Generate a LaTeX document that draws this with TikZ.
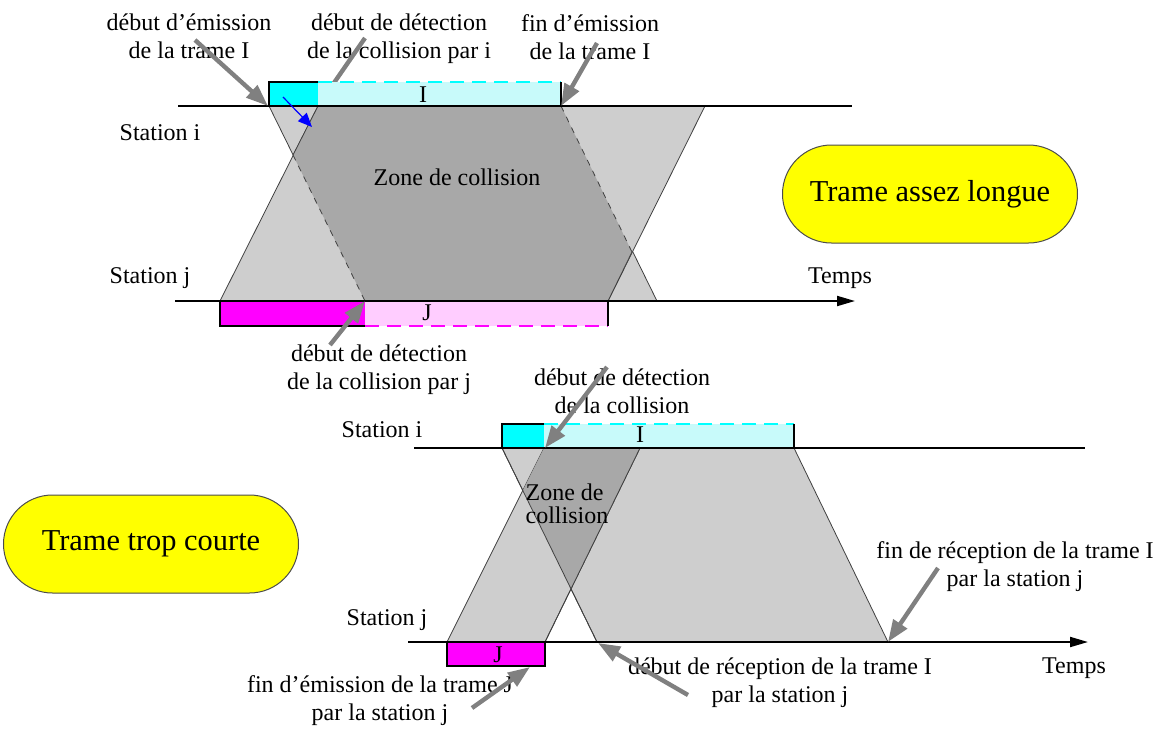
\documentclass[tikz,border=0pt]{standalone}
\usepackage{fontspec}
\setmainfont{Liberation Serif}
\usepackage{tikz}
\usetikzlibrary{arrows.meta}
\definecolor{lightgrey}{RGB}{206,206,206}
\definecolor{darkgrey}{RGB}{168,168,168}
\definecolor{arrowgrey}{RGB}{128,128,128}
\definecolor{cyanfull}{RGB}{0,255,255}
\definecolor{magentafull}{RGB}{255,0,255}
\definecolor{yellowfull}{RGB}{255,255,0}
\definecolor{cyanhatch}{RGB}{200,250,250}
\definecolor{pinkhatch}{RGB}{255,205,255}

\begin{document}
\begin{tikzpicture}[x=0.5pt,y=-0.5pt,
    lbl/.style={font=\fontsize{12}{14}\selectfont,align=center,inner sep=0pt},
    pointer/.style={draw=arrowgrey,line width=2.2pt,-{Triangle[length=11pt,width=8pt]}},
    signal/.style={fill=lightgrey,draw=black!75,line width=0.4pt},
    edge/.style={draw=black!75,line width=0.4pt},
    medium/.style={line width=1pt},
    frame/.style={line width=0.8pt},
    dashframe/.style={line width=0.8pt,dash pattern=on 7pt off 4pt},
    bubble/.style={fill=yellowfull,draw=black!70,line width=0.5pt,rounded corners=24.5pt,
      minimum width=147.5pt,minimum height=49pt,font=\fontsize{15.2}{18}\selectfont}]
    \useasboundingbox (0,0) rectangle (1163,729);

    % ---------- trame assez longue ----------
    % signals on the medium
    \draw[signal] (269,106) -- (561,106) -- (657,301) -- (365,301) -- cycle;
    \draw[signal] (220,301) -- (608,301) -- (705,106) -- (318,106) -- cycle;
    \fill[darkgrey] (318,106) -- (561,106) -- (632,252) -- (608,301) -- (365,301) -- (293,155) -- cycle;
    \draw[edge] (318,106) -- (293,155) (632,252) -- (608,301);
    \draw[edge,dashed] (293,155) -- (365,301) (561,106) -- (632,252);
    % points on the time axes
    \coordinate (emiA) at (268,106);
    \coordinate (detA) at (318,106);
    \coordinate (finA) at (561,106);
    \coordinate (detB) at (365,301);
    % label of the collision seen by i (under the frame)
    \node[lbl] (detI) at (399,39) {début de détection\\de la collision par i};
    \coordinate (detIa) at (365,38);
    \draw[pointer] (detIa) -- (detA);
    % frame I
    \fill[cyanhatch] (318,82) rectangle (561,106);
    \draw[cyanfull,dashframe] (318,82) -- (561,82);
    \fill[cyanfull] (269,82) rectangle (318,106);
    \draw[frame] (318,82) -- (269,82) -- (269,106);
    \draw[frame] (561,82) -- (561,106);
    \node[lbl] (frI) at (423,95) {I};
    % frame J
    \fill[pinkhatch] (365,301) rectangle (608,326);
    \draw[magentafull,dashframe] (365,326) -- (608,326);
    \fill[magentafull] (220,301) rectangle (365,326);
    \draw[frame] (365,326) -- (220,326) -- (220,301);
    \draw[frame] (608,301) -- (608,326);
    \node[lbl] (frJ) at (427,313) {J};
    % stations
    \draw[medium] (178,106) -- (852,106);
    \draw[medium,-{Triangle[length=9pt,width=5pt]}] (175,301) -- (855,301);
    \node[lbl] (stI) at (160,133) {Station i};
    \node[lbl] (stJ) at (150,278) {Station j};
    \node[lbl] (tpsA) at (840,278) {Temps};
    \node[lbl] (zoneA) at (457,177) {Zone de collision};
    \node[bubble] (longue) at (930,194) {Trame assez longue};
    % labels and pointers
    \node[lbl] (emiI) at (189,36) {début d'émission\\de la trame I};
    \node[lbl] (finI) at (590,37) {fin d'émission\\de la trame I};
    \node[lbl] (detJ) at (379,370) {début de détection\\de la collision par j};
    \coordinate (emiIa) at (195,40);
    \coordinate (finIa) at (597,43);
    \coordinate (detJa) at (330,345);
    \draw[pointer] (emiIa) -- (emiA);
    \draw[pointer] (finIa) -- (finA);
    \draw[pointer] (detJa) -- (detB);
    \coordinate (blueA) at (283,97);
    \coordinate (blueB) at (312,127);
    \draw[blue,line width=0.6pt,-{Triangle[length=7pt,width=6pt]}] (blueA) -- (blueB);

    % ---------- trame trop courte ----------
    \draw[signal] (502,448) -- (794,448) -- (888,642) -- (597,642) -- cycle;
    \draw[signal] (447,642) -- (545,642) -- (640,448) -- (544,448) -- cycle;
    \fill[darkgrey] (544,448) -- (640,448) -- (571,589) -- (523,490) -- cycle;
    \draw[edge] (502,448) -- (597,642) (640,448) -- (545,642);
    \coordinate (detC) at (545,448);
    \coordinate (finJ) at (530,667);
    \coordinate (recA) at (598,643);
    \coordinate (recB) at (888,642);
    % frame I
    \fill[cyanhatch] (544,424) rectangle (794,448);
    \draw[cyanfull,dashframe] (544,424) -- (794,424);
    \fill[cyanfull] (502,424) rectangle (544,448);
    \draw[frame] (544,424) -- (502,424) -- (502,448);
    \draw[frame] (794,424) -- (794,448);
    \node[lbl] (frI2) at (640,435) {I};
    % frame J
    \draw[frame,fill=magentafull] (447,642) rectangle (545,666);
    \node[lbl] (frJ2) at (498,655) {J};
    % stations
    \draw[medium] (414,448) -- (1085,448);
    \draw[medium,-{Triangle[length=9pt,width=5pt]}] (408,642) -- (1088,642);
    \node[lbl] (stI2) at (382,430) {Station i};
    \node[lbl] (stJ2) at (387,620) {Station j};
    \node[lbl] (tpsB) at (1074,668) {Temps};
    \node[lbl,align=left,font=\fontsize{12}{11.5}\selectfont] (zoneB) at (567,504) {Zone de\\collision};
    \node[bubble] (courte) at (151,544) {Trame trop courte};
    % labels and pointers
    \node[lbl] (detC2) at (622,391) {début de détection\\de la collision};
    \node[lbl] (finJ2) at (380,701) {fin d'émission de la trame J\\par la station j};
    \node[lbl] (debRec) at (780,683) {début de réception de la trame I\\par la station j};
    \node[lbl] (finRec) at (1015,567) {fin de réception de la trame I\\par la station j};
    \coordinate (detCa) at (607,367);
    \coordinate (finJa) at (472,708);
    \coordinate (recAa) at (688,695);
    \coordinate (recBa) at (938,568);
    \draw[pointer] (detCa) -- (detC);
    \draw[pointer] (finJa) -- (finJ);
    \draw[pointer] (recAa) -- (recA);
    \draw[pointer] (recBa) -- (recB);
  \end{tikzpicture}
\end{document}
